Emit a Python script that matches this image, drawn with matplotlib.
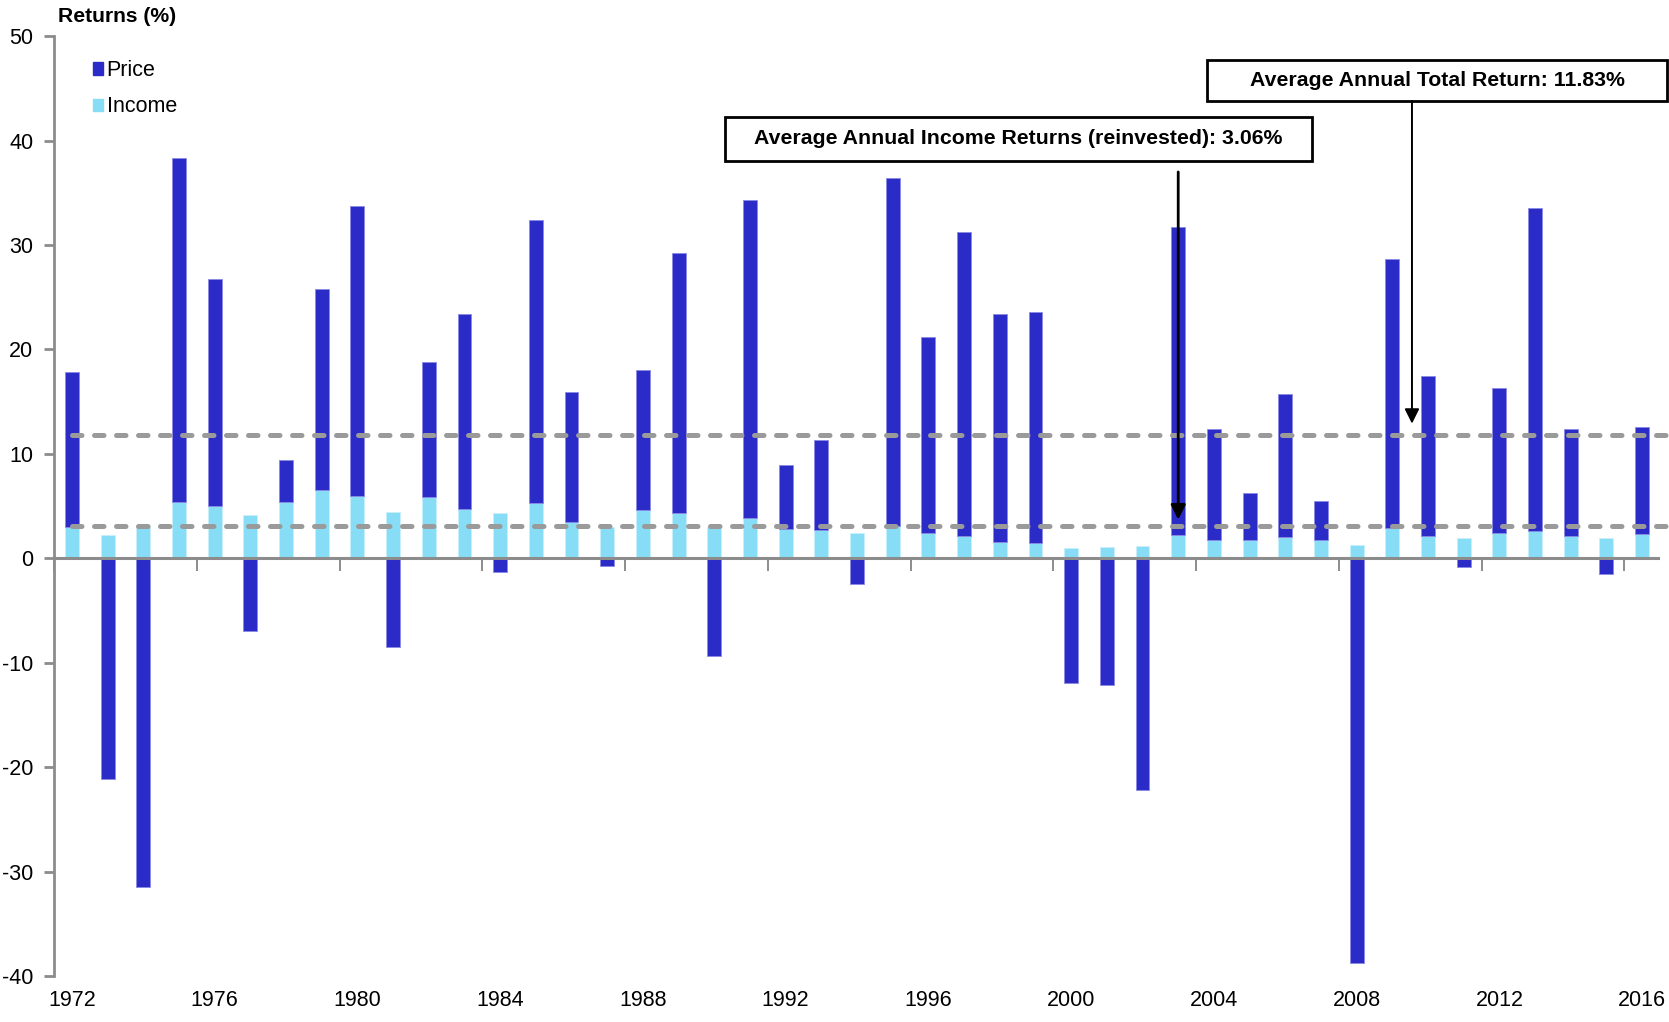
# annual price and income returns, 1972-2016
import numpy as np
import matplotlib.pyplot as plt
from matplotlib.patches import Rectangle

plt.rcParams['font.family'] = ['Liberation Sans', 'DejaVu Sans']
plt.rcParams['axes.unicode_minus'] = False

years = list(range(1972, 2017))
income = [3.0, 2.2, 3.1, 5.4, 5.0, 4.1, 5.4, 6.5, 6.0, 4.4,
          5.9, 4.7, 4.3, 5.3, 3.5, 3.0, 4.6, 4.3, 3.0, 3.9,
          2.8, 2.7, 2.4, 3.1, 2.4, 2.1, 1.6, 1.5, 1.0, 1.1,
          1.2, 2.2, 1.8, 1.8, 2.0, 1.8, 1.3, 2.9, 2.1, 1.9,
          2.4, 2.6, 2.1, 1.9, 2.3]
# top of the stacked bar (total) for up years, price return for down years
total = [17.8, -21.1, -31.5, 38.3, 26.7, -7.0, 9.4, 25.8, 33.7, -8.5,
         18.8, 23.4, -1.3, 32.4, 15.9, -0.7, 18.0, 29.2, -9.4, 34.3,
         8.9, 11.3, -2.5, 36.4, 21.2, 31.2, 23.4, 23.6, -11.9, -12.1,
         -22.2, 31.7, 12.4, 6.3, 15.7, 5.5, -38.8, 28.7, 17.5, -0.8,
         16.3, 33.5, 12.4, -1.5, 12.6]
avg_income = 3.06
avg_total = 11.83
label_years = years[::4]

income = np.array(income)
total = np.array(total)
price = np.where(total > 0, total - income, total)
price_bottom = np.where(total > 0, income, 0)

dark = '#2b2bc8'
light = '#86ddf5'
grey = '#8c8c8c'

fig = plt.figure(figsize=(16.69, 10.22), dpi=100)
ax = fig.add_axes([0.0324, 0.045, 0.9622, 0.9196])

x = np.arange(len(years))
ax.bar(x, income, width=0.39, color=light, edgecolor='#c8f0fb', linewidth=0.6, zorder=2)
ax.bar(x, price, bottom=price_bottom, width=0.39, color=dark, edgecolor='#8a8ae6',
       linewidth=0.6, zorder=2)

ax.set_xlim(-0.5, len(years) - 0.5)
ax.set_ylim(-40, 50)

# average lines
for v in (avg_total, avg_income):
    ax.plot([0, len(years) - 0.3], [v, v], color='#9a9a9a', lw=3.6,
            linestyle=(0, (1.9, 2.5)), dash_capstyle='round', zorder=3, clip_on=False)

# zero axis with tick marks between categories
ax.axhline(0, color=grey, lw=2.2, zorder=4)
zero_ax = ax.secondary_xaxis(0, transform=ax.transData)
zero_ax.spines['bottom'].set_visible(False)
zero_ax.set_xticks(np.arange(-0.5, len(years), 4))
zero_ax.set_xticklabels([])
zero_ax.tick_params(axis='x', direction='out', length=9, width=1.4, color=grey)

for s in ('top', 'right', 'bottom'):
    ax.spines[s].set_visible(False)
ax.spines['left'].set_color(grey)
ax.spines['left'].set_linewidth(2)

ax.set_yticks(np.arange(-40, 51, 10))
ax.tick_params(axis='y', direction='out', length=7, width=2, color=grey,
               labelsize=15.5, pad=8)
ax.set_xticks(x[::4])
ax.set_xticklabels(label_years)
ax.tick_params(axis='x', length=0, labelsize=15.5, pad=10)

fig.text(0.0347, 0.984, 'Returns (%)', fontsize=15.2, fontweight='bold', va='center')

# legend
ax.legend(handles=[Rectangle((0, 0), 1, 1, color=dark), Rectangle((0, 0), 1, 1, color=light)],
          labels=['Price', 'Income'], loc='upper left', bbox_to_anchor=(0.012, 0.995),
          frameon=False, fontsize=15.5, handlelength=0.5, handleheight=0.5,
          handletextpad=0.15, labelspacing=0.7)

# annotation boxes
boxes = [((725, 117, 1312, 161), 'Average Annual Income Returns (reinvested): 3.06%'),
         ((1207, 60, 1667, 101), 'Average Annual Total Return: 11.83%')]
W, H = 1669, 1022
for (x0, y0, x1, y1), txt in boxes:
    fig.patches.append(Rectangle((x0 / W, 1 - y1 / H), (x1 - x0) / W, (y1 - y0) / H,
                                 transform=fig.transFigure, fill=False, ec='black', lw=2))
    fig.text((x0 + x1) / 2 / W, 1 - (y0 + y1) / 2 / H, txt, fontsize=15.3,
             fontweight='bold', ha='center', va='center')

ax.annotate('', xy=(31, 3.7), xytext=(31, 37.0),
            arrowprops=dict(arrowstyle='-|>', color='black', lw=2, mutation_scale=22,
                            shrinkA=0, shrinkB=0), zorder=6)
ax.annotate('', xy=(37.55, 12.9), xytext=(37.55, 43.8),
            arrowprops=dict(arrowstyle='-|>', color='black', lw=1.4, mutation_scale=22,
                            shrinkA=0, shrinkB=0), zorder=6)

fig.savefig('out.png', dpi=100)
